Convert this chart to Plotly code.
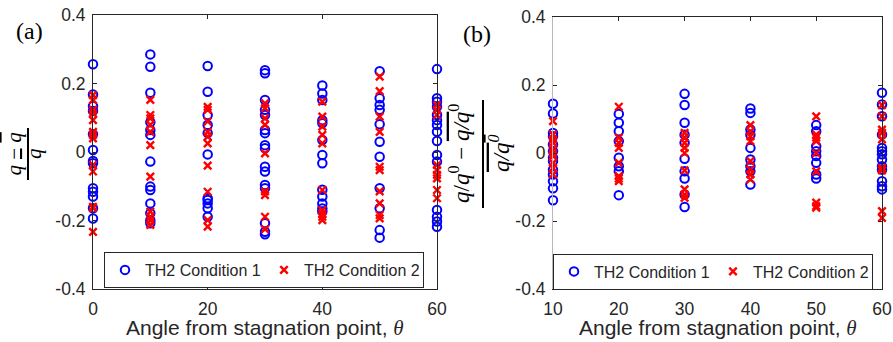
import plotly.graph_objects as go

# ---------------- data ----------------
angles_a = [0, 10, 20, 30, 40, 50, 60]
a_cond1 = [
    [0.256, 0.168, 0.134, 0.12, 0.052, 0.006, -0.026, -0.033, -0.106, -0.116, -0.13, -0.164, -0.194],
    [0.285, 0.249, 0.173, 0.087, 0.064, 0.05, -0.028, -0.101, -0.111, -0.15, -0.179, -0.199, -0.208],
    [0.251, 0.176, 0.108, 0.079, 0.055, -0.007, -0.135, -0.14, -0.15, -0.164, -0.189],
    [0.239, 0.23, 0.152, 0.123, 0.108, 0.064, 0.055, 0.02, 0.011, -0.043, -0.057, -0.096, -0.106, -0.208, -0.233, -0.24],
    [0.194, 0.171, 0.152, 0.093, 0.084, 0.035, -0.009, -0.033, -0.11, -0.13, -0.15, -0.165, -0.174],
    [0.236, 0.157, 0.137, 0.123, 0.081, 0.03, -0.014, -0.106, -0.164, -0.228, -0.25],
    [0.242, 0.157, 0.147, 0.132, 0.108, 0.093, 0.079, 0.059, 0.032, -0.009, -0.028, -0.169, -0.189, -0.203, -0.218],
]
a_cond2 = [
    [0.166, 0.152, 0.123, 0.113, 0.093, 0.059, 0.05, 0.04, -0.038, -0.057, -0.16, -0.164, -0.233],
    [0.152, 0.108, 0.098, 0.079, 0.059, 0.02, -0.072, -0.174, -0.189, -0.2, -0.213],
    [0.132, 0.123, 0.089, 0.059, 0.045, 0.025, -0.04, -0.116, -0.199, -0.218],
    [0.142, 0.128, 0.098, 0.079, -0.004, -0.115, -0.126, -0.189, -0.225],
    [0.147, 0.103, 0.074, 0.05, 0.025, -0.111, -0.17, -0.18, -0.189, -0.199],
    [0.22, 0.178, 0.103, 0.059, -0.043, -0.053, -0.115, -0.15, -0.184, -0.194],
    [0.137, 0.123, 0.108, -0.038, -0.053, -0.067, -0.077, -0.111, -0.135],
]

angles_b = [10, 20, 30, 40, 50, 60]
b_cond1 = [
    [0.145, 0.116, 0.059, 0.049, 0.025, 0.005, -0.014, -0.024, -0.049, -0.063, -0.083, -0.104, -0.139],
    [0.115, 0.089, 0.064, 0.035, -0.014, -0.039, -0.054, -0.124],
    [0.174, 0.141, 0.089, 0.054, 0.03, -0.017, -0.054, -0.075, -0.122, -0.159],
    [0.131, 0.118, 0.069, 0.054, 0.015, -0.019, -0.039, -0.054, -0.093],
    [0.082, 0.064, 0.02, 0.005, -0.009, -0.029, -0.063, -0.075],
    [0.177, 0.143, 0.108, 0.054, 0.015, 0.005, -0.004, -0.019, -0.039, -0.049, -0.083, -0.098, -0.107],
]
b_cond2 = [
    [0.094, 0.054, 0.04, 0.03, 0.01, 0.0, -0.009, -0.029, -0.044, -0.063],
    [0.136, 0.045, 0.03, 0.015, -0.029, -0.068, -0.075, -0.083],
    [0.059, 0.045, 0.03, 0.015, 0.0, -0.051, -0.107, -0.122, -0.132],
    [0.082, 0.064, 0.049, 0.035, -0.024, -0.049, -0.063, -0.078],
    [0.108, 0.054, 0.045, 0.035, 0.0, -0.054, -0.146, -0.156, -0.161],
    [0.141, 0.108, 0.069, 0.059, 0.04, -0.044, -0.051, -0.171, -0.191],
]

series_names = ["TH2 Condition 1", "TH2 Condition 2"]
y_tickvals = [-0.4, -0.2, 0, 0.2, 0.4]
y_ticktext = ["-0.4", "-0.2", "0", "0.2", "0.4"]
xa_ticks = [0, 20, 40, 60]
xb_ticks = [10, 20, 30, 40, 50, 60]
x_title = "Angle from stagnation point, <i><span style='font-family:Liberation Serif'>θ</span></i>"


def flatten(angles, groups):
    xs, ys = [], []
    for a, g in zip(angles, groups):
        xs += [a] * len(g)
        ys += g
    return xs, ys


W, H = 893, 342
def px(x):
    return x / W
def py(y):
    return 1 - y / H

BLUE = "rgb(0,0,255)"
RED = "rgb(255,0,0)"
INK = "#262626"
FONT = "Liberation Sans, Arial, sans-serif"
SERIF = "Liberation Serif, Times New Roman, serif"

fig = go.Figure()

circle = dict(symbol="circle-open", size=8.5, color=BLUE, line=dict(width=2, color=BLUE))
cross = dict(symbol="x-thin-open", size=7.5, color=RED, line=dict(width=2.4, color=RED))

x, y = flatten(angles_a, a_cond1)
fig.add_trace(go.Scatter(x=x, y=y, mode="markers", marker=circle, name=series_names[0],
                         xaxis="x", yaxis="y", legend="legend", cliponaxis=False))
x, y = flatten(angles_a, a_cond2)
fig.add_trace(go.Scatter(x=x, y=y, mode="markers", marker=cross, name=series_names[1],
                         xaxis="x", yaxis="y", legend="legend", cliponaxis=False))
x, y = flatten(angles_b, b_cond1)
fig.add_trace(go.Scatter(x=x, y=y, mode="markers", marker=circle, name=series_names[0],
                         xaxis="x2", yaxis="y2", legend="legend2", cliponaxis=False))
x, y = flatten(angles_b, b_cond2)
fig.add_trace(go.Scatter(x=x, y=y, mode="markers", marker=cross, name=series_names[1],
                         xaxis="x2", yaxis="y2", legend="legend2", cliponaxis=False))
# empty helper trace to realise the right-hand spine of panel (b)
fig.add_trace(go.Scatter(x=[], y=[], xaxis="x2", yaxis="y3", showlegend=False))

tickfont = dict(family=FONT, size=17.5, color=INK)
titlefont = dict(family=FONT, size=21, color=INK)

common_x = dict(showgrid=False, zeroline=False, showline=True, linecolor=INK, linewidth=1,
                ticks="inside", ticklen=4, tickcolor=INK, mirror="ticks", tickfont=tickfont,
                ticklabelstandoff=4)
common_y = dict(showgrid=False, zeroline=False, showline=True, linecolor=INK, linewidth=1,
                ticks="inside", ticklen=4, tickcolor=INK, tickfont=tickfont, ticklabelstandoff=3,
                tickvals=y_tickvals, ticktext=y_ticktext, range=[-0.4, 0.4])

legend_common = dict(orientation="h", xanchor="left", yanchor="top",
                     bgcolor="white", bordercolor=INK, borderwidth=1,
                     font=dict(family=FONT, size=16, color=INK),
                     entrywidth=114, entrywidthmode="pixels")

fig.update_layout(
    width=W, height=H, margin=dict(l=0, r=0, t=0, b=0, autoexpand=False),
    paper_bgcolor="white", plot_bgcolor="white",
    xaxis=dict(common_x, domain=[px(93), px(437)], range=[0, 60], tickvals=xa_ticks, anchor="y"),
    yaxis=dict(common_y, domain=[py(289), py(15)], mirror="ticks", anchor="x"),
    xaxis2=dict(common_x, domain=[px(553), px(882)], range=[10, 60], tickvals=xb_ticks, anchor="y2"),
    yaxis2=dict(common_y, domain=[py(289), py(17)], mirror=False, linecolor="#b8b8b8", anchor="x2"),
    yaxis3=dict(showgrid=False, zeroline=False, showline=True, linecolor=INK, linewidth=1,
                ticks="inside", ticklen=4, tickcolor=INK, showticklabels=False,
                tickvals=y_tickvals, range=[-0.4, 0.4], overlaying="y2", side="right", anchor="x2"),
    legend=dict(legend_common, x=px(104), y=py(252)),
    legend2=dict(legend_common, x=px(553), y=py(253.5)),
)

ann_font = dict(family=SERIF, size=23, color="black")
ann_font_a = dict(family=SERIF, size=21, color="black")
OL = "<span style='text-decoration:overline'>{}</span>"
annotations = [
    dict(text="(a)", x=px(29), y=py(31), font=dict(family=SERIF, size=24, color="black")),
    dict(text="(b)", x=px(477), y=py(34), font=dict(family=SERIF, size=24, color="black")),
    dict(text="<i>q</i> − <i>" + OL.format("q") + "</i>", x=px(13.5), y=py(154), textangle=-90, font=ann_font_a),
    dict(text="<i>" + OL.format("q") + "</i>", x=px(34), y=py(154), textangle=-90, font=ann_font_a),
    dict(text="<i>q</i>/<i>q</i><sup>0</sup> − <i>" + OL.format("q/q") + "</i><sup>0</sup>",
         x=px(460), y=py(154), textangle=-90, font=ann_font),
    dict(text="<i>" + OL.format("q/q<sup>0</sup>") + "</i>", x=px(500), y=py(154), textangle=-90, font=ann_font),
]
for a in annotations:
    a.update(yanchor="middle")
annotations += [
    dict(text=x_title, x=px(265), y=0, yanchor="bottom", font=titlefont),
    dict(text=x_title, x=px(717.5), y=0, yanchor="bottom", font=titlefont),
]
for a in annotations:
    a.update(xref="paper", yref="paper", showarrow=False, xanchor="center")
fig.update_layout(annotations=annotations)

fig.add_shape(type="line", xref="paper", yref="paper", x0=px(28), x1=px(28), y0=py(128), y1=py(180),
              line=dict(color="black", width=2))
fig.add_shape(type="line", xref="paper", yref="paper", x0=px(483), x1=px(483), y0=py(100), y1=py(208),
              line=dict(color="black", width=2))

fig.write_html("out.html")
